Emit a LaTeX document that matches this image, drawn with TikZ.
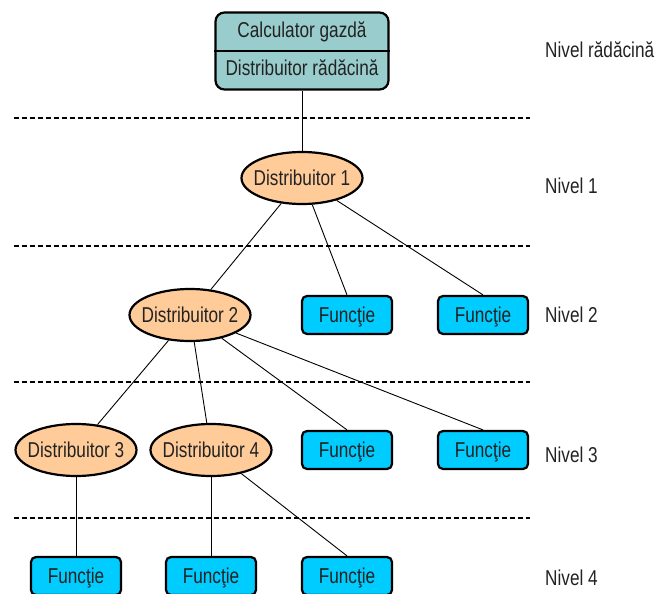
\documentclass[tikz,border=0pt]{standalone}
\usepackage{fontspec}
\setmainfont{Liberation Sans}
\newfontfamily\lblfont[FakeStretch=0.8]{Liberation Sans}
\usetikzlibrary{shapes.geometric}
\definecolor{rootfill}{HTML}{99CCCC}
\definecolor{distfill}{HTML}{FFCC99}
\definecolor{funcfill}{HTML}{00CCFF}
\definecolor{txt}{HTML}{222222}
\tikzset{
  lbl/.style={font=\lblfont\fontsize{21.5}{23}\selectfont, text=txt, inner sep=0pt,
    text height=15.4pt, text depth=0pt},
  distnode/.style={lbl, ellipse, draw=black, line width=2.2pt, fill=distfill,
    minimum width=121pt, minimum height=52pt, inner xsep=-32pt, inner ysep=-12pt},
  funcnode/.style={lbl, rectangle, rounded corners=5pt, draw=black, line width=2.2pt,
    fill=funcfill, minimum width=90pt, minimum height=38pt},
  rootbox/.style={rectangle, rounded corners=9pt, draw=black, line width=2.2pt,
    fill=rootfill, minimum width=173pt, minimum height=77pt, inner sep=0pt},
  link/.style={draw=black, line width=0.9pt},
  levelline/.style={draw=black, line width=1.3pt, dash pattern=on 5pt off 3pt},
  levellbl/.style={lbl, anchor=west}
}
\begin{document}
\begin{tikzpicture}[x=1pt, y=-1pt]
  \useasboundingbox (0,0) rectangle (657,594);

  % level separators
  \foreach \yy/\nm in {118/sepA, 246/sepB, 382/sepC, 518/sepD} {
    \coordinate (\nm l) at (14,\yy);
    \coordinate (\nm r) at (530,\yy);
    \draw[levelline] (\nm l) -- (\nm r);
  }

  % host computer with the root distributor
  \node[rootbox] (root) at (302,51) {};
  \draw[line width=2.2pt] (root.west) -- (root.east);
  \node[lbl] (host) at (302,30) {Calculator gazdă};
  \node[lbl] (rootdist) at (302,68) {Distribuitor rădăcină};

  % distributors
  \node[distnode] (d1) at (302,178) {Distribuitor 1};
  \node[distnode] (d2) at (190,315) {Distribuitor 2};
  \node[distnode] (d3) at (76,450) {Distribuitor 3};
  \node[distnode] (d4) at (211,450) {Distribuitor 4};

  % functions
  \node[funcnode] (f2a) at (347,315) {Funcţie};
  \node[funcnode] (f2b) at (483,315) {Funcţie};
  \node[funcnode] (f3a) at (347,450) {Funcţie};
  \node[funcnode] (f3b) at (483,450) {Funcţie};
  \node[funcnode] (f4a) at (76,576) {Funcţie};
  \node[funcnode] (f4b) at (211,576) {Funcţie};
  \node[funcnode] (f4c) at (347,576) {Funcţie};

  % connections
  \draw[link] (root.south) -- (d1);
  \draw[link] (d1) -- (d2);
  \draw[link] (d1) -- (f2a.north);
  \draw[link] (d1) -- (f2b.north);
  \draw[link] (d2) -- (d3);
  \draw[link] (d2) -- (d4);
  \draw[link] (d2) -- (f3a.north);
  \draw[link] (d2) -- (f3b.north);
  \draw[link] (d3) -- (f4a.north);
  \draw[link] (d4) -- (f4b.north);
  \draw[link] (d4) -- (f4c.north);

  % level names
  \node[levellbl] (lv0) at (545,50) {Nivel rădăcină};
  \node[levellbl] (lv1) at (545,185.5) {Nivel 1};
  \node[levellbl] (lv2) at (545,315) {Nivel 2};
  \node[levellbl] (lv3) at (545,455) {Nivel 3};
  \node[levellbl] (lv4) at (545,578) {Nivel 4};
\end{tikzpicture}
\end{document}
